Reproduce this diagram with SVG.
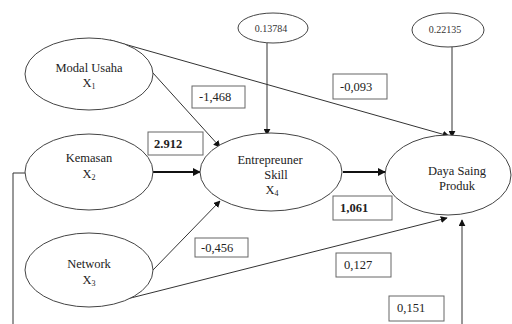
<svg xmlns="http://www.w3.org/2000/svg" width="512" height="324" viewBox="0 0 512 324">
<defs>
<marker id="ah" viewBox="0 0 10 10" refX="9" refY="5" markerWidth="7" markerHeight="7" orient="auto" markerUnits="userSpaceOnUse"><path d="M0,0 L10,5 L0,10 z" fill="#111"/></marker>
<marker id="ahb" viewBox="0 0 10 10" refX="9" refY="5" markerWidth="8" markerHeight="8" orient="auto" markerUnits="userSpaceOnUse"><path d="M0,0 L10,5 L0,10 z" fill="#111"/></marker>
</defs>
<style>
.el{fill:#fff;stroke:#444;stroke-width:1}
text{font-family:'Liberation Serif','DejaVu Serif',serif;fill:#222}
.t{font-size:12.5px;text-anchor:middle}
.s{font-size:10px;fill:#333;text-anchor:middle}
.sub{font-size:8px}
.c{fill:none;stroke:#333;stroke-width:1}
.th{fill:none;stroke:#111;stroke-width:2.2}
.bx{fill:#fff;stroke:#666;stroke-width:1}
.lb{font-size:12.5px}
.bd{font-weight:bold}
</style>
<rect width="512" height="324" fill="#fff"/>
<g id="connectors">
<polyline class="c" points="25,173 13,173 13,324"/>
<line class="c" x1="110" y1="40" x2="449" y2="136" marker-end="url(#ah)"/>
<line class="c" x1="153" y1="73" x2="220" y2="147" marker-end="url(#ah)"/>
<line class="th" x1="152" y1="172" x2="200" y2="172" marker-end="url(#ahb)"/>
<line class="c" x1="153" y1="270" x2="220" y2="201" marker-end="url(#ah)"/>
<line class="c" x1="103" y1="305" x2="447" y2="218" marker-end="url(#ah)"/>
<line class="th" x1="343" y1="172" x2="385" y2="172" marker-end="url(#ahb)"/>
<line class="c" x1="267" y1="43" x2="267" y2="135" marker-end="url(#ah)"/>
<line class="c" x1="452" y1="47" x2="452" y2="137" marker-end="url(#ah)"/>
<line class="c" x1="462" y1="324" x2="462" y2="220" marker-end="url(#ah)"/>
</g>
<g id="modal">
<ellipse class="el" cx="89" cy="74" rx="64" ry="36"/>
<text class="t" x="89" y="72">Modal Usaha</text>
<text class="t" x="89" y="87">X<tspan class="sub" dy="2">1</tspan></text>
</g>
<g id="kemasan">
<ellipse class="el" cx="89" cy="172" rx="64" ry="38"/>
<text class="t" x="89" y="162">Kemasan</text>
<text class="t" x="89" y="178">X<tspan class="sub" dy="2">2</tspan></text>
</g>
<g id="network">
<ellipse class="el" cx="89" cy="270" rx="64" ry="37"/>
<text class="t" x="89" y="268">Network</text>
<text class="t" x="89" y="284">X<tspan class="sub" dy="2">3</tspan></text>
</g>
<g id="entre">
<ellipse class="el" cx="271" cy="172" rx="71" ry="39"/>
<text class="t" x="270" y="164">Entrepreuner</text>
<text class="t" x="276" y="179">Skill</text>
<text class="t" x="272" y="194">X<tspan class="sub" dy="2">4</tspan></text>
</g>
<g id="daya">
<ellipse class="el" cx="448" cy="175" rx="63" ry="40"/>
<text class="t" x="457" y="175">Daya Saing</text>
<text class="t" x="457" y="190">Produk</text>
</g>
<g id="e1">
<ellipse class="el" cx="273" cy="28" rx="35" ry="15"/>
<text class="s" x="271" y="32">0.13784</text>
</g>
<g id="e2">
<ellipse class="el" cx="448" cy="30" rx="36" ry="17"/>
<text class="s" x="445" y="33">0.22135</text>
</g>
<g id="labels">
<rect class="bx" x="192" y="86" width="53" height="22"/>
<text class="lb" x="199" y="101">-1,468</text>
<rect class="bx" x="333" y="74" width="54" height="25"/>
<text class="lb" x="340" y="91">-0,093</text>
<rect class="bx" x="148" y="132" width="55" height="23"/>
<text class="lb bd" x="154" y="148">2.912</text>
<rect class="bx" x="333" y="196" width="59" height="24"/>
<text class="lb bd" x="340" y="212">1,061</text>
<rect class="bx" x="195" y="238" width="53" height="19"/>
<text class="lb" x="201" y="252">-0,456</text>
<rect class="bx" x="336" y="253" width="55" height="24"/>
<text class="lb" x="344" y="269">0,127</text>
<rect class="bx" x="389" y="296" width="55" height="25"/>
<text class="lb" x="397" y="312">0,151</text>
</g>
</svg>
